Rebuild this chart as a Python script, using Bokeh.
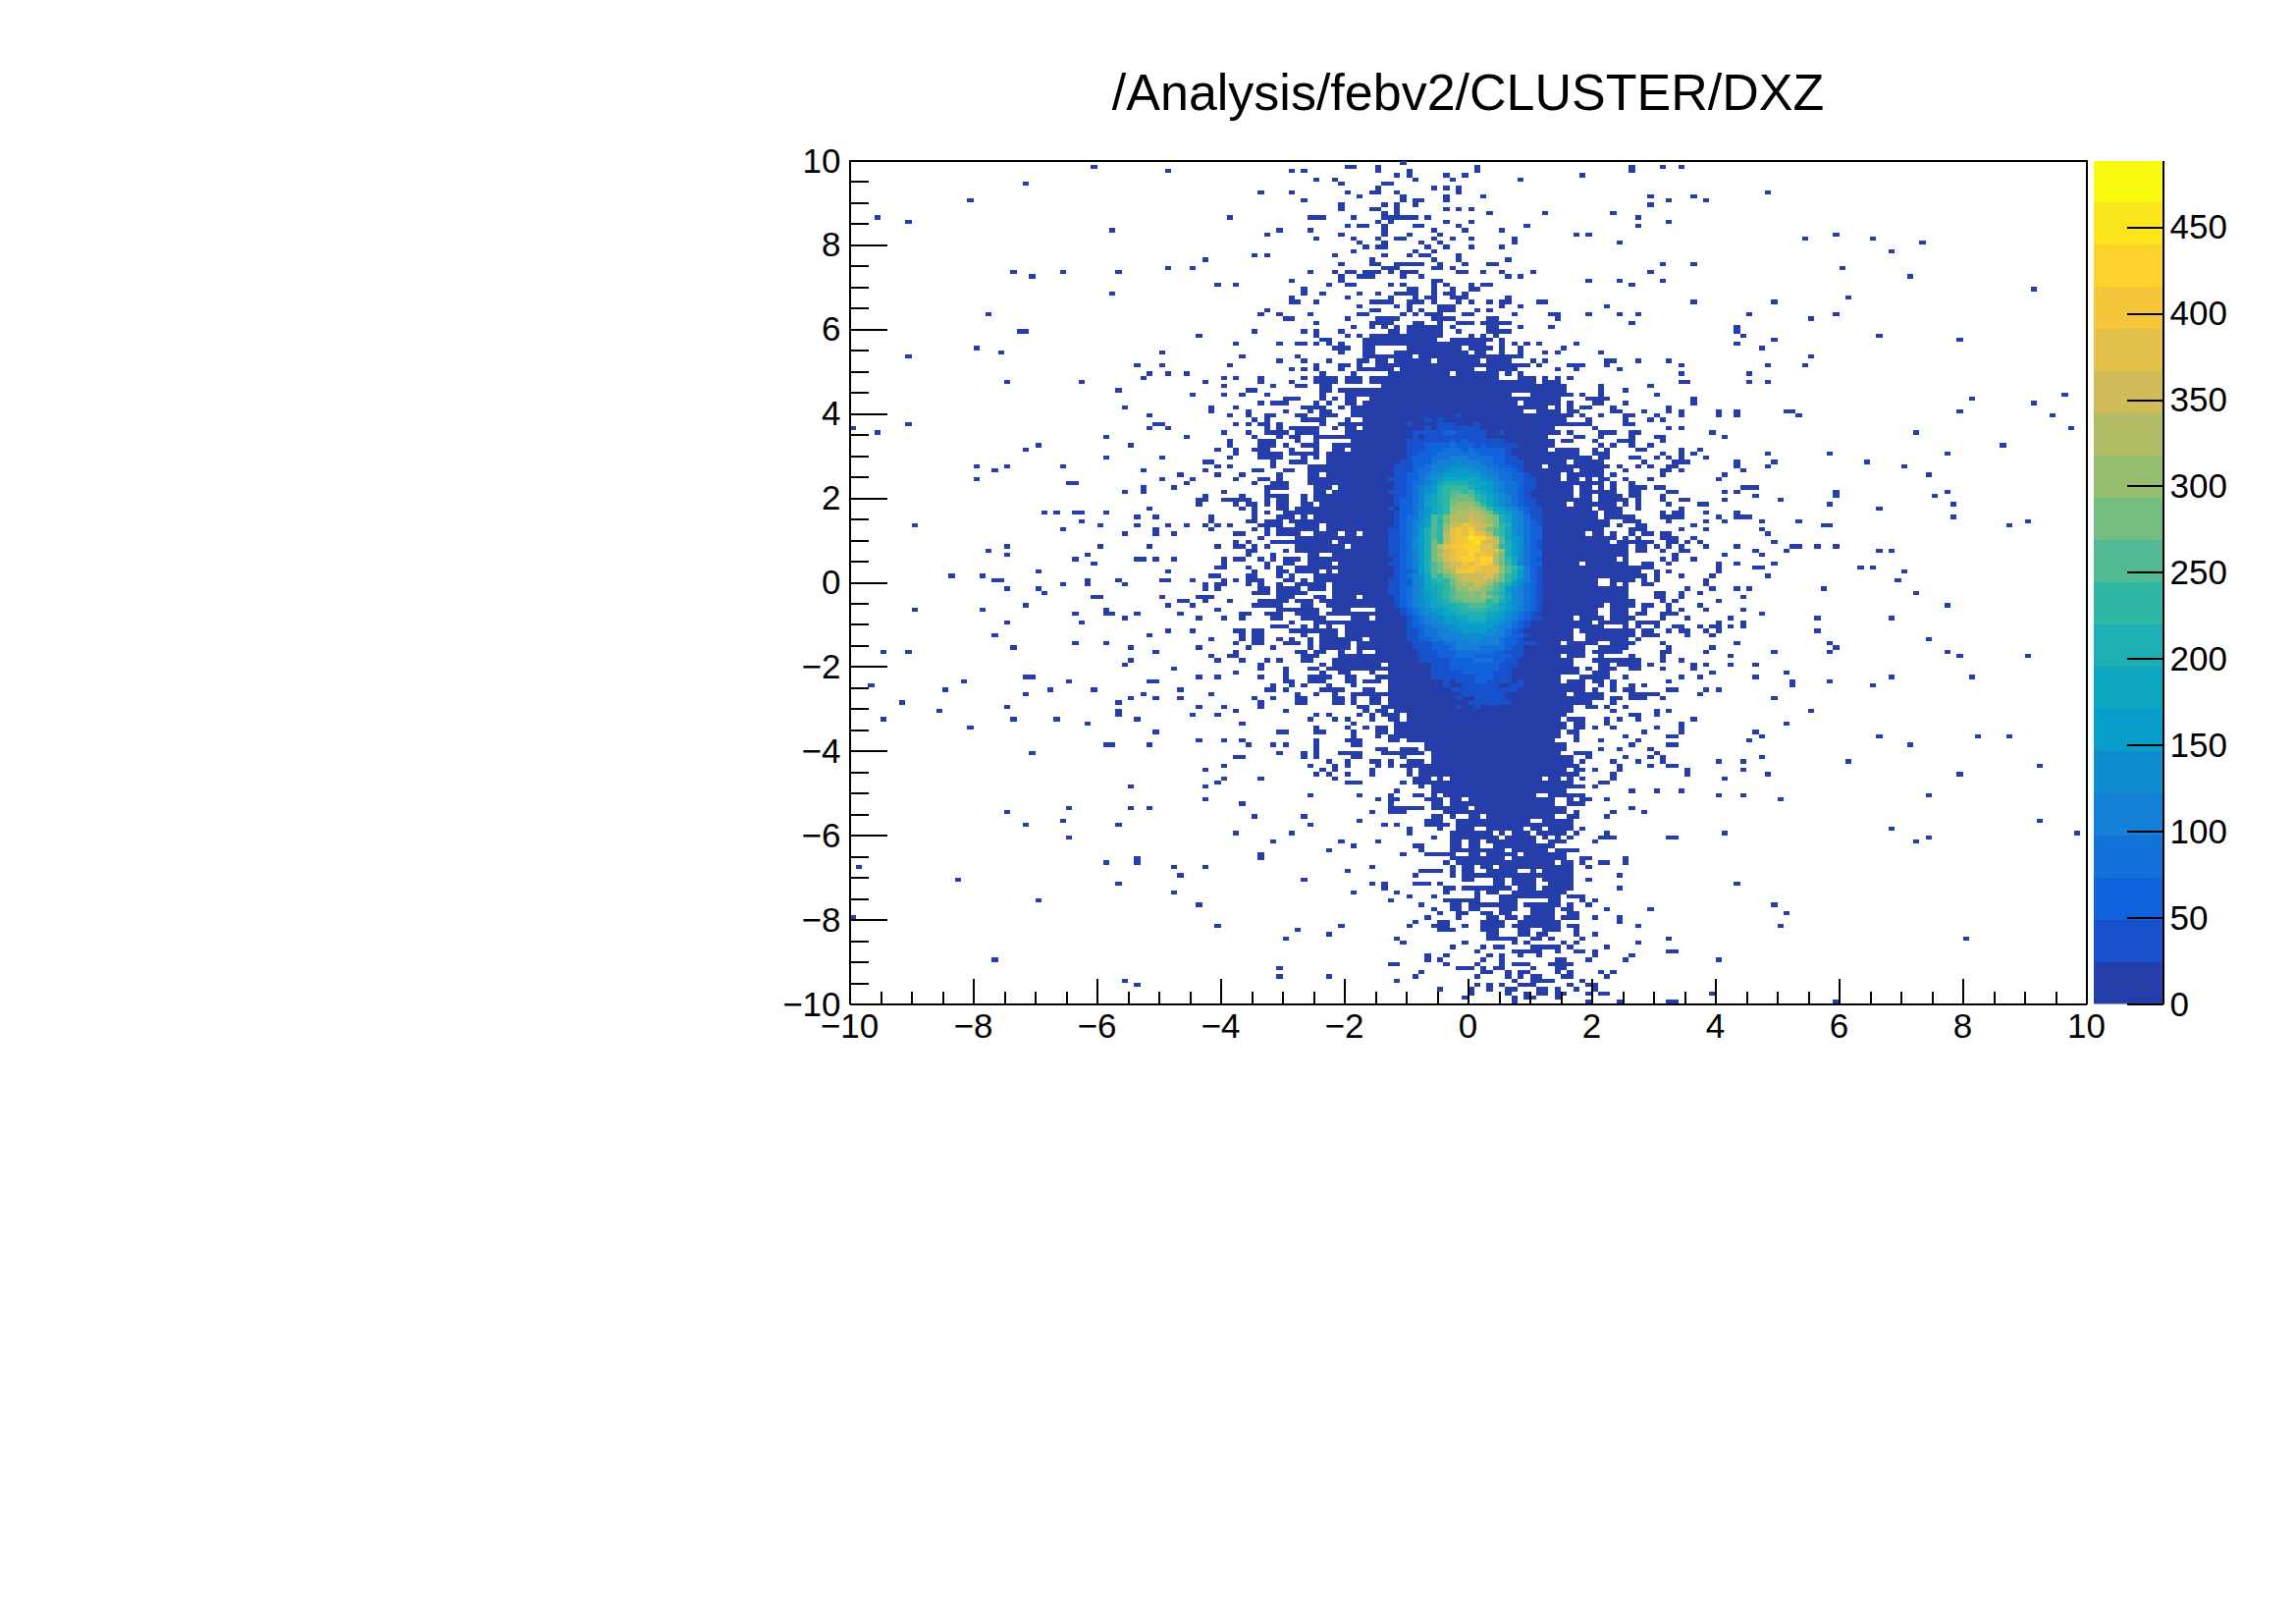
from bokeh.plotting import figure
from bokeh.models import ColumnDataSource, LinearColorMapper, FixedTicker, LinearAxis, Range1d
from bokeh.transform import transform
from bokeh.layouts import row as hrow
from bokeh.embed import file_html
from bokeh.resources import INLINE

title_text = "/Analysis/febv2/CLUSTER/DXZ"
x_major = [-10, -8, -6, -4, -2, 0, 2, 4, 6, 8, 10]
y_major = [-10, -8, -6, -4, -2, 0, 2, 4, 6, 8, 10]
z_major = [0, 50, 100, 150, 200, 250, 300, 350, 400, 450]
z_max = 488.5
n_levels = 20
n_bins = 200
base_count = 10.0

# kBird palette anchor colours
bird_r = [0.2082, 0.0592, 0.0780, 0.0232, 0.1802, 0.5301, 0.8186, 0.9956, 0.9764]
bird_g = [0.1664, 0.3599, 0.5041, 0.6419, 0.7178, 0.7492, 0.7328, 0.7862, 0.9832]
bird_b = [0.5293, 0.8684, 0.8385, 0.7914, 0.6425, 0.4662, 0.3499, 0.1968, 0.0539]

# Occupied bins: row counted from the top of the frame -> columns counted from the left.
left_rows = {
1:"39",2:"51",5:"28",7:"66",9:"19",13:"4 61",14:"9",16:"42",22:"65",23:"57",25:"51 55",26:"26 34 43",27:"29",
29:"59 62",31:"42",36:"22 66",40:"27 28 65",41:"56",43:"62",44:"20",45:"24 50",46:"9 63",48:"46 50 61",
50:"48 51 54",51:"47 60 62 66",52:"25 37 57 66",53:"60",54:"43 64 65",55:"55 60 63",57:"66",58:"44 58 62",
59:"58 64",60:"48 61 64",61:"65",62:"9 49 50 62 64 66",63:"0 48 51",64:"4 60 64",65:"41 54 65",66:"61 66",
67:"30 45 61 66",68:"28 59 62 65 66",69:"62",70:"41 50 61 66",71:"57 58",72:"20 25 34 59 61",73:"23 47 57 65 66",
74:"53 59 63",75:"20 50 55 62 66",76:"35 36 54 65",77:"47 52",78:"44 47 60",79:"57 63",80:"56 57 60-64",
81:"56 62 64 65",82:"48 63 65",83:"31 33 36 37 41 65",84:"46 49 58 65",85:"37 58 64 65",86:"10 40 46 51 54 57 59 61 66",
87:"34 49 58 65",88:"44 49 52 62 63",89:"66",90:"62 64",91:"25 40 48 59 62 63 65",92:"22 64 65",93:"25 38 64",
94:"36 46 47 49 52 60 62 63 66",95:"39 60",96:"59 60 64",97:"30 51 65",98:"16 21 58 59 64 65",
99:"23 24 38 43 50 51 55 60 62 64 65 66",100:"34 38 44 57 59 60 64 66",101:"25 30 57 59 66",102:"31 65 66",
103:"39 40 50 56-58",104:"53 54 57 61",105:"28 51 55 65 66",106:"10 21 41 59",107:"36 41 42 46 53 63 64",
108:"44 56 60 63",109:"25 37",111:"51 55 62 63 65 66",112:"23 48 63 65 66",113:"58 63 65 66",114:"36 41 62 65 66",
115:"26 45 56 64",116:"5 9 49 62",117:"58 61 62",118:"45 59 63",119:"44 66",120:"52 66",121:"62",122:"28 29 56 59 66",
123:"18 35 48 49",124:"3",125:"15 32 39 53",126:"28 47 58",127:"45 49 53 65",128:"8 43 66",129:"25 56 60 66",
130:"14 43 62",131:"43 55 59",132:"5 26 33 46",133:"38 63",134:"19",135:"49",137:"56 60 63",138:"41 42 48 64",
140:"29",141:"62 63",143:"60",144:"57",146:"60 66",147:"59",148:"45 57",151:"57",152:"63",153:"35 45 48",154:"25",
155:"65",156:"34",157:"28 43",159:"62",160:"35",164:"66",165:"46 66",166:"41 46",167:"1 52 57",169:"53",170:"17",
171:"43",173:"52",175:"30",176:"56",179:"0",181:"59",189:"23",194:"44",195:"46",
}

middle_rows = {
0:"89",1:"80 81 85 101 126 131",2:"71 73 85 90 101 126",3:"88 90 96 99 118",4:"75 78 91 97 108",5:"79 86 87",6:"85 94 96 98",
7:"66 71 80 84 85 88 98",8:"82 89 96 102 129",9:"73 89 91 92 96 132",10:"79 86 88 91 129",11:"79 84 85 88 96 98 100",
12:"86 88 103 112 123",13:"74-76 81 86-91 93 127",14:"85 87 96 100 132",15:"80 82 83 86 91 92 98 109 127",
16:"69 74 86 94 99 105",17:"67 79 86 90 95 117 119",18:"75 81 85 88 89 94 97 100 107",19:"82 86 92 95 107 124",
20:"83 85 86 93 96 100 105",21:"81 91 94",22:"67 78 86 90 92 93 98",23:"84 94 98 106",24:"79 84 85 88-92 95 99 103 104 131",
25:"86-88 94 95 97",26:"74 78 80 81 83-85 87 89-91 98 99 102 105 110 129",27:"79 82-84 89 92 106 108",
28:"71 79 94 95 119 124 131",29:"77 80 81 87 89 94 96 100 102 103 126",30:"73 90 91 94 97 100 101",
31:"73 76 82 85 88-91 94 96 97 99",32:"71 80 87 91 93 94 97-99 106",33:"71 72 75 84-87 90-92 94 98 100 103 105 106 111 112",
34:"82 88 90 95-97 105 108 122",35:"67 84 85 90 92 95-97 101 103",36:"69 74 82 83 89 91 93-95 99 100 107 113 114 119 124 127",
37:"70 71 80 85-88 94-97 103 104 114",38:"75 84-87 91 92 95 98-100 102-106 126",39:"81 84 86 88 90-95 97 103 104 108 113",
40:"73 75 79 87 88 90-95 98 103-106",41:"75 80 82 84-95 100 102 104",42:"76 77 83-94 97-103 105",
43:"69 72 73 75 77 79 83-102 105 107 109 111 117",44:"78 79 80 83 84 90-98 100-103 105 108 115",
45:"79 83 84 88-99 101 102 105 108 112 114 121",46:"72 83-90 92-108",47:"69 73 77 82 83 85 86 88-93 95-101 103-106 110 112 122 123 127 132",
48:"75 79 80 82 85-109 111 116-118 122",49:"71 73 75 79 82-87 89-100 103-107 114 117 124",50:"76 81 87-96 98-104 106 108",
51:"66 73 75-78 80-82 84-104 108-110 112 114 116",52:"71 75-78 80-82 84-107 108-110 112-114",53:"68 72 73 76 77 86-111 112-115 121 129",
54:"76 77 79-111 112-115 121 125",55:"67 76 80-106 110-116 118 121 130",56:"70-72 76 78 80 81 84-108 109-114 119-122",
57:"66 68-70 75 77 80 81 83-107 109-113 114 116 120 121 125",58:"73-76 79 81-112 114 116 118 119 123 132",
59:"70 74 76 77 81-108 111-114 116 117 123 124 128 132",60:"67 68 72 73 76-78 81-115 116 118 121 125 126 130",
61:"67 73-75 76 80 83-110 111-114 115 119 125 129 131",62:"67 69 76 79-112 113-119 125 126",
63:"67 69 71 72-75 78 80 81 83-113 120 132",64:"67-70 72-75 80-113 114 116 121-123 126 127",
65:"69 71 72 75 76-112 117 118 121 126 130 131",66:"67 68 72 75 81-113 115 116 120 124-126 131",
67:"66-68 70 73-75 78-113 121 123 126 129",68:"67 71 75 78 79 81-112 114-117 120 122 127 128",69:"66-69 71-75 77-117 120-122 131",
70:"67-69 73 75 77-111 112-119 121 122 126 127 130 132",71:"68 71-73 77-115 117-121 128",72:"68 74-111 113-122 124 127 129 132",
73:"70 71 74-116 118-121 125 131 132",74:"69 74 75 77-114 116-121 123 131",75:"67 69 74-114 116 117 119 121 122 125 129",
76:"68-70 74-121 123 126",77:"67 68-70 75-77 79-116 118 119 121 123 126-128 130 131",78:"67 75 76 78-116 118-123 126 127 132",
79:"67-70 73 75-116 118 119 121-124 126 127 131",80:"67 69 70 73 75-119 121-124 125 127 131",81:"67 69 70 73 74 76-115 117-119 120-123 125 127 132",
82:"69 70 72-119 121-124 127",83:"67 70-120 122-124 131",84:"69-71 73 75-120 122-124 125 126 131 132",85:"67-69 71-122 125 126 127 132",
86:"67-69 72-75 77-122 124 127 128",87:"67 69-75 77-121 126-128",88:"67 69-72 75-78 80 81 83-118 120 121 123 126 128 129 131 132",
89:"66 72-123 125 127 131 132",90:"68-77 79-119 120-122 124-129 132",91:"67 72-79 81-125 127 128 130 132",92:"70 72-122 123-125 127 128 131",
93:"68 74 75 78-125",94:"68 70-72 74-123 125 131",95:"67 70 71 74-77 79-117 119-124 125 128 129 132",96:"67 69 72-129",
97:"69 70 72-75 77 79-127 130 132",98:"69 71 75-128 130",99:"66 70 71 73 75-120 123-126 128 130",
100:"69 72-76 78-120 123 125 128 129",101:"66 67 69-72 74-76 78-125",102:"67 69-73 78-125 130 131",103:"69-71 75 76 78-81 83-118 119-125 130 131",
104:"66-70 72-74 76-126 131",105:"66-69 73 74 77-121 123-126 128 129 132",106:"69-71 72-75 78-80 85-120 123-125 128 132",
107:"67-69 72-75 77-120 123-125 127 128 131 132",108:"68 69 73-76 81-83 85-116 118-121 123-126 131",109:"71 75-119 121-125 127-130",
110:"68-70 73 75 77 80-121 125 127 130",111:"66 71-78 80-116 118-126 128 129 132",112:"73 76-78 80-116 119-126 128-130",
113:"66 69 71 74 76-82 84-116 119-125 127",114:"70-72 74 76-80 82-114 116-120 123-126 131",115:"68 74 76-80 82-118 121-125 132",
116:"72 73 75 76 79 82 85-118 120-124 131 132",117:"73-75 79-114 116-118 121 126 131",118:"67 69 73 74 78-116 120-127 131",
119:"66 76 78-85 87-116 121 122 124-127 129",120:"70 74 75 77-84 85-117 119 121-123 126 127 131",121:"70 76 79 80 84 89-117 120-122",
122:"66 70 74-77 80 81 85-114 118-122 125",123:"70 71 74-76 80 81 83-85 87-114 116-118 120 121 123 132",
124:"68 71 73 77 81 87-118 121 123 126 128",125:"67 68 70 76-79 83 84 87-118 120 123 125 126 132",
126:"72 75 78 81-86 88-115 117-121 126-130",127:"68 72 73 78 79 81 84 85 87-121 123 124 126-128 131",128:"66 72 73 78 79 81 84 85 87-119 123",
129:"66 82 83 86-116 119 120 122 125",130:"70 83 85 86 88-116 123 130 132",131:"75 77 82 84 86-88 90-115 126 127 130",
132:"74 78 80 84 87 88 90-114 116-118 122 124 127",133:"81 88-115 117 118 122",134:"75 80 83 85 86 88-115 117 118 120 123 130",
135:"69 70 75 76 81 85 86 88-114 116 117 128",136:"81 85 87 88 89-114 117 125 132",137:"75 80-82 87 88 90-113 117 121 127",
138:"68 70 75 81 82 93-115 126 132",139:"75 85 86 89-91 93-115 121 124 129",140:"69 73 75 79-82 86-92 94-114 117-119 130",
141:"73 75 81 82 89 94-116 119 125 129 131",142:"77 80 84 85 87 90-92 94-116 118 123 127 131",143:"74 78 80 85 87 89-93 94-117 124 129 132",
144:"76 78 84 90 92-115 117 118 120 124",145:"75 77 80 84 90 92-116 117 123",146:"66 78 91-93 95 97-111 113 114 116 118 123",
147:"80-82 89 91-93 94-116 121 122",148:"92 94-118 120",149:"88 94-115 126 130",150:"74 82 87 91 92 94 96-110 113-118",
151:"85 87 88 93-95 97 98 100-113 116 118 119 122",152:"87 94 95 97-113 116-118",153:"87-92 94-99 101-115 126",
154:"84 87-89 96-115 117 123 128",155:"73 94 95 97 100 101 103-113 116 117 122",156:"82 93-95 98-109 112-116",
157:"74 86 88 93-96 98-116",158:"90 95 98-100 103-108 110 111 113-116 118",159:"71 90 97-103 105 107-109 111-115 117 122",
160:"94 97-104 106-110 112 114 116 121-123 132",161:"68 79 85 97 98 100 101 103-110 113-115 120",162:"81 91 92 97 98 100 101 104-113",
163:"77 92 97-105 107-112 114-117",164:"66 89 93-97 100 101 103-107 109-114 115",165:"97-100 101-105 107-115 118 119 125",
166:"96 98 99-113 115 116 118 121 122 125",167:"84 97 99 100 102 103 105-115 116 119",168:"80 92-95 97 99 100 103-107 110 112-116",
169:"91 97 99-116 124",170:"73 99 100 104 105 107-110 112-116 119",171:"84 86 91-93 95 104 105 107-110 113-116",
172:"86 96 97 99-106 108-110 112-116 124",173:"81 88 96 101 103 104 107-113 114 115",174:"90 94 101 105-114 116-118",
175:"87 96-101 105-107 113 114 118 120",176:"92 97 98 100-107 109 110-114 116 119",177:"94 97 98 100 101 105-107 110-113 115 116 122 129",
178:"95 98 99 102 103 105 106 110-113 116 117",179:"93 98 103 104 106 107 109-113 115-117 120 124",180:"91 95 96 102-105 108-114 124",
181:"79 90 94 95 96 99 102-105 107-114 116 117 127",182:"72 95-97 102-104 108 109 112-114 117",183:"77 103 104 108 109 111 112 117 120",
184:"70 88 103-107 110 111 113 118 132",185:"89 99 107 109 115 117 127",186:"97 102 104 105 110-114 116 122",
187:"101 107-111 114 117 118 120 132",188:"93 96 103 105 108 111 120 126",189:"93 95 102 105 114 115 119 125",
190:"87 88 96 101 105 107-109 113-116",191:"69 98-100 102 104 105 110 114 115",192:"92 102 103 106 108 109 114 116 121 123",
193:"69 77 91 101 106 108 110 111 115 116 122",194:"88 107 110-113 118",195:"101 103 105 108-110 116 119 120",
196:"95 100 103 106 107 111 112 114 117 120",197:"100 106 109 111 112 114 115 119 121 122",198:"99 107 109 110 114",199:"107 119 124 132",
}

right_rows = {
1:"134",7:"148",8:"136",9:"138",17:"159",18:"154 165",19:"173",21:"168",24:"136",25:"160",27:"171",30:"191",32:"161",
33:"136 149",36:"145 159",37:"155",39:"143",40:"143",41:"144 166",42:"149 179",43:"143",44:"147",46:"155",48:"134 148 154",
50:"134 145",52:"134 135 145 148",55:"196",56:"136 181",57:"136 191",59:"134 140 143 151 152 179",60:"134 140 143 153 194",
63:"134 197",64:"139 172",65:"141",67:"186",68:"134 137",69:"134 136 148 158 177",70:"134 138",71:"133-135 143 149 164",
72:"133 143 148 170",73:"134 144",74:"141 174",75:"140",77:"144-146",78:"133 141 143 159 177",79:"146 159 175",80:"134 135 141 150",
81:"137 138 158 178",82:"134 166",83:"133 134 138 143",84:"133 134 140 143-145 178",85:"138 141 147 153 190",86:"136 157 158 187",
87:"134 138 147",88:"148",89:"133 136",90:"133 135 137 149",91:"134 138 143 152 153 156 159",92:"134 135 146 151 166 168",
93:"133 141 147",94:"133 136",95:"140 143 149",96:"140 146 147 163 165",97:"140 170",98:"134 139 148",99:"138 169",100:"138",
101:"135 139 143 145 157",102:"134 137 172",103:"134 144",104:"133 140",105:"137 177",106:"134 138 144",107:"133 147",
108:"135 142 156 168",109:"140 144",110:"133 134 137 139 140 142 144",111:"134 135 138 140 156",112:"135 139",113:"174",114:"143 158",
115:"139 159",116:"138 149 158 177",117:"142 179 190",118:"134",119:"136 138 142 146",120:"136",121:"139 151",122:"134 137 146 168 181",
123:"152 158",124:"152 165",125:"133 138 140",126:"137",127:"149",130:"155",132:"136",133:"134 151",134:"134",135:"134 146",
136:"133 147 166 182 187",137:"145",138:"133 171",141:"147",142:"140 144 161",143:"133 192",144:"135 144",145:"135 148 179",146:"141",
149:"134",150:"140 144 174",151:"150",156:"192",158:"168",159:"141 198",160:"133 174",161:"172",171:"143",176:"149",178:"151",
181:"150",184:"180",187:"133",189:"140",197:"139",199:"133 159",
}

# Colour level of the bins around the peak: columns 87..111, rows 60..129 (digits then letters = level).
core_first_col = 87
core_first_row = 60
core_levels = [
"0000000000010000000000000","0000001010000000000000000","0001000011100010000000000","0000001011111110000000000",
"0000111112211111001000000","0000101111111111000000000","0001111111212111111000000","0001112222322212111110000",
"0001112223332322222100000","0001122233333332222100000","0001222333444333322110000","0011222344454443322111000",
"0111223444555544332211000","0111233445666554433221000","0112234556666665443322100","1112234567777765543322110",
"0112334578888777654332110","0112345689999876654332110","1112345689aa9a87654332100","0112346789abba98765432100",
"0122346789bbbb98765432110","0122347789bcccb9765432110","1022346789cccdcb976543211","0122356789cddddcb87654211",
"0123356a9bdddeddcb8754311","0123457a8bdddeedcb8754321","0123457a9ceegfeedb9854321","1123468a9cfgfgedba9754322",
"1123468a9dfgfhffda9754322","1123468a9dfggihhfda765322","1123568b9dfgghifeea865321","1123568bdfgghhhffd9865321",
"1123468bcefgghhfffc865322","1123468bdefgghfgfdb865322","0123468bcefghhghhdb975321","1123468abdeegfghgdb974322",
"0123468abdeffggfffca97421","0122368abcdgggffffca86421","0123457a9bcdeeeefdb986421","1122457899bdeeeedcb975421",
"1122457889bcdcedca9865321","1123457789accddcba9654321","1123456789abbcbca98654321","0123456789abbcbcba9754321",
"0123456788aabbbb9a8654321","0123456778899aaa987654321","0012345667889999887654321","0012345567788888776543210",
"0001234556677888766543211","0001234456667777665432100","0001223445566666654432100","0001123344556666554321000",
"0001123344445555544322100","0001122334445554443221000","0000111223344444443221110","0000111222344443333211000",
"0000011122233333322111000","0000011122233322222211000","0000011111222233322110000","0000000111222222221110000",
"0000000111222222221100000","0000000111112222211100000","0000000111111122211100000","0000000001011122111101000",
"0000000001001111110011000","0000000000111111111110000","0000000000001111111000000","0000000000010011111000000",
"0000000000000111111100000","0000000000010010000000000",
]

# ---- assemble ----
def cols_of(spec):
    out = []
    for tok in spec.split():
        if "-" in tok:
            a, b = tok.split("-")
            out.extend(range(int(a), int(b) + 1))
        else:
            out.append(int(tok))
    return out

grid = [[-1] * n_bins for _ in range(n_bins)]
for table in (left_rows, middle_rows, right_rows):
    for r, spec in table.items():
        for c in cols_of(spec):
            grid[r][c] = 0
digits = "0123456789abcdefghij"
for i, s in enumerate(core_levels):
    for j, ch in enumerate(s):
        grid[core_first_row + i][core_first_col + j] = digits.index(ch)

bin_w = 20.0 / n_bins
step = z_max / n_levels
lefts, rights, tops, bottoms, vals = [], [], [], [], []
for r in range(n_bins):
    c = 0
    while c < n_bins:
        lev = grid[r][c]
        if lev < 0:
            c += 1
            continue
        e = c
        while e + 1 < n_bins and grid[r][e + 1] == lev:
            e += 1
        lefts.append(-10 + c * bin_w)
        rights.append(-10 + (e + 1) * bin_w)
        tops.append(10 - r * bin_w)
        bottoms.append(10 - (r + 1) * bin_w)
        vals.append(base_count if lev == 0 else (lev + 0.5) * step)
        c = e + 1

def bird(f):
    t = f * 8
    i = min(int(t), 7)
    u = t - i
    ch = lambda a: int(round(255 * (a[i] + (a[i + 1] - a[i]) * u)))
    return "#%02x%02x%02x" % (ch(bird_r), ch(bird_g), ch(bird_b))

palette = [bird((i + 0.99) / n_levels) for i in range(n_levels)]
mapper = LinearColorMapper(palette=palette, low=0, high=z_max)

FONT = "Liberation Sans"
LEFT, TOP, BOTTOM = 865, 163, 70
FRAME_H = 859
RIGHT_ROOM = 43
CRISP = [":host { shape-rendering: crispEdges; }"]

p = figure(width=LEFT + 1260 + RIGHT_ROOM, height=TOP + FRAME_H + BOTTOM, output_backend="svg", toolbar_location=None,
           x_range=Range1d(-10, 10), y_range=Range1d(-10, 10), x_axis_location="below", y_axis_location="left",
           min_border_left=LEFT, min_border_right=RIGHT_ROOM, min_border_top=TOP, min_border_bottom=BOTTOM,
           background_fill_color="white", border_fill_color="white", stylesheets=CRISP)
p.grid.visible = False
p.outline_line_color = "black"
p.outline_line_width = 2
p.outline_line_alpha = 1

src = ColumnDataSource(dict(left=lefts, right=rights, top=tops, bottom=bottoms, v=vals))
col = transform("v", mapper)
p.quad(left="left", right="right", top="top", bottom="bottom", source=src, fill_color=col, line_color=None)

x_minor = [v / 2.0 for v in range(-20, 21)]
for ax, maj in ((p.xaxis[0], x_major), (p.yaxis[0], y_major)):
    ax.ticker = FixedTicker(ticks=maj, minor_ticks=x_minor)
    ax.major_label_overrides = {v: (("\u2212%d" % -v) if v < 0 else str(v)) for v in maj}
    ax.major_label_text_font = FONT
    ax.major_label_text_font_size = "35px"
    ax.major_label_text_color = "black"
    ax.axis_line_color = "black"
    ax.axis_line_width = 2
    ax.major_tick_line_color = "black"
    ax.minor_tick_line_color = "black"
    ax.major_tick_line_width = 2
    ax.minor_tick_line_width = 2
    ax.major_tick_out = 0
    ax.minor_tick_out = 0
p.xaxis[0].major_tick_in = 26
p.xaxis[0].minor_tick_in = 13
p.xaxis[0].major_label_standoff = 10
p.yaxis[0].major_tick_in = 38
p.yaxis[0].minor_tick_in = 19
p.yaxis[0].major_label_standoff = 9

p.title.text = title_text
p.title.align = "center"
p.title.offset = -6
p.title.text_font = FONT
p.title.text_font_style = "normal"
p.title.text_font_size = "52px"
p.title.text_color = "black"
p.title.standoff = 82

# colour scale panel: its transparent left part overlaps the room kept for the last x label
bar = figure(width=4 + 71 + 90, height=TOP + FRAME_H + BOTTOM, output_backend="svg", toolbar_location=None,
             x_range=Range1d(0, 1), y_range=Range1d(0, z_max), x_axis_location=None, y_axis_location=None,
             min_border_left=4, min_border_right=90, min_border_top=TOP, min_border_bottom=BOTTOM,
             background_fill_color=None, border_fill_color=None, stylesheets=CRISP,
             margin=(0, 0, 0, 3 - RIGHT_ROOM))
bar.grid.visible = False
bar.outline_line_color = None
bar_src = ColumnDataSource(dict(bottom=[i * step for i in range(n_levels)], top=[(i + 1) * step for i in range(n_levels)],
                                left=[0.0] * n_levels, right=[1.0] * n_levels, color=palette))
bar.quad(left="left", right="right", top="top", bottom="bottom", source=bar_src, fill_color="color", line_color=None)
zax = LinearAxis(ticker=FixedTicker(ticks=z_major), major_label_text_font=FONT, major_label_text_font_size="35px",
                 major_label_text_color="black", axis_line_color="black", axis_line_width=2,
                 major_tick_line_color="black", major_tick_line_width=2, major_tick_in=37, major_tick_out=0,
                 minor_tick_line_color=None, major_label_standoff=7)
bar.add_layout(zax, "right")

layout = hrow(p, bar)
open("out.html", "w").write(file_html(layout, INLINE))
